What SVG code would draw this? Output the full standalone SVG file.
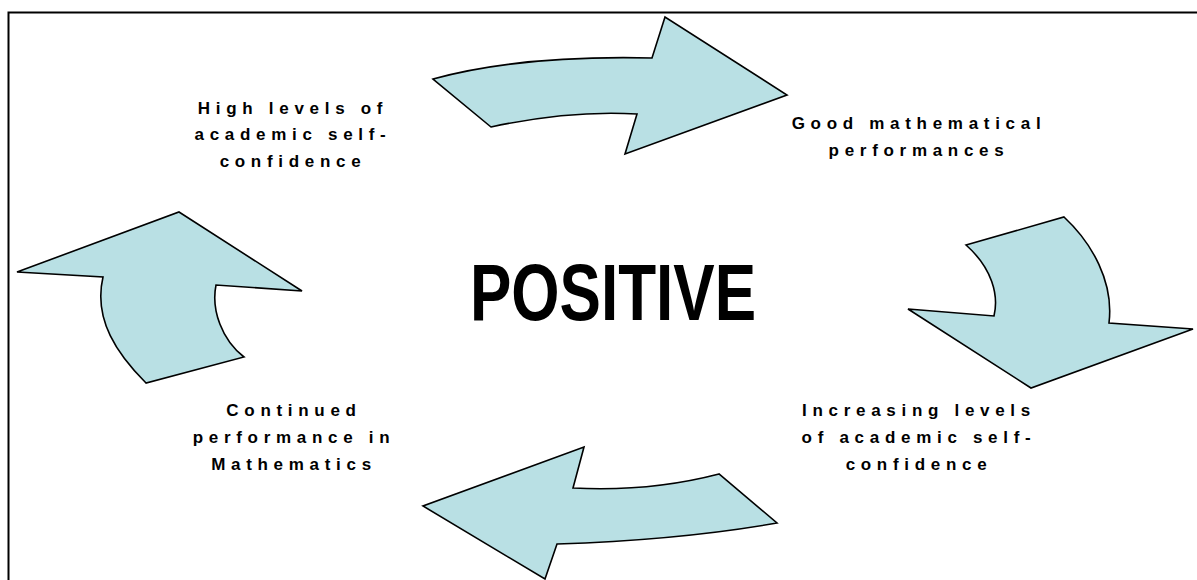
<svg xmlns="http://www.w3.org/2000/svg" width="1197" height="580" viewBox="0 0 1197 580">
  <style>
    .arrow { fill: #b9e0e4; stroke: #000; stroke-width: 1.6; stroke-linejoin: miter; }
    .label { font-family: "Liberation Sans", Arial, sans-serif; font-weight: bold; font-size: 17px; letter-spacing: 5.7px; fill: #000; text-anchor: middle; }
    .title { font-family: "Liberation Sans", Arial, sans-serif; font-weight: bold; font-size: 80px; fill: #000; }
  </style>
  <rect x="0" y="0" width="1197" height="580" fill="#fff"/>
  <!-- frame, open to the right and bottom -->
  <path d="M8.5,590 V12.5 H1200" fill="none" stroke="#000" stroke-width="2"/>

  <g id="connectors">
    <!-- top: curved arrow pointing right -->
    <path class="arrow" d="M433,79 Q520,55 652,58 L665,17 L787,95 L625,154 L637,114 Q570,110 491,127 Z"/>
    <!-- right: curved arrow pointing down -->
    <path class="arrow" d="M966,245 L1064,217 C1092,243 1114,282 1109,323 L1193,329 L1031,388 L908,309 L994,316 C999,295 992,268 966,245 Z"/>
    <!-- bottom: curved arrow pointing left -->
    <path class="arrow" d="M584,447 L573,488 Q650,492 719,474 L777,523 Q680,540 557,544 L545,579 L423,506 Z"/>
    <!-- left: curved arrow pointing up -->
    <path class="arrow" d="M179,212 L302,291 L216,285 C211,310 222,340 244,357 L146,383 C118,355 93,320 103,277 L17,272 Z"/>
  </g>

  <g id="center-title">
    <text class="title" x="470" y="320" textLength="286" lengthAdjust="spacingAndGlyphs">POSITIVE</text>
  </g>

  <g id="node-high-confidence">
    <text class="label" x="293" y="114">High levels of</text>
    <text class="label" x="293" y="140">academic self-</text>
    <text class="label" x="293" y="166.5">confidence</text>
  </g>

  <g id="node-good-performance">
    <text class="label" x="919" y="129">Good mathematical</text>
    <text class="label" x="919" y="156">performances</text>
  </g>

  <g id="node-increasing-confidence">
    <text class="label" x="919" y="416">Increasing levels</text>
    <text class="label" x="919" y="443">of academic self-</text>
    <text class="label" x="919" y="470">confidence</text>
  </g>

  <g id="node-continued-performance">
    <text class="label" x="294" y="416">Continued</text>
    <text class="label" x="294" y="443">performance in</text>
    <text class="label" x="294" y="470">Mathematics</text>
  </g>
</svg>
